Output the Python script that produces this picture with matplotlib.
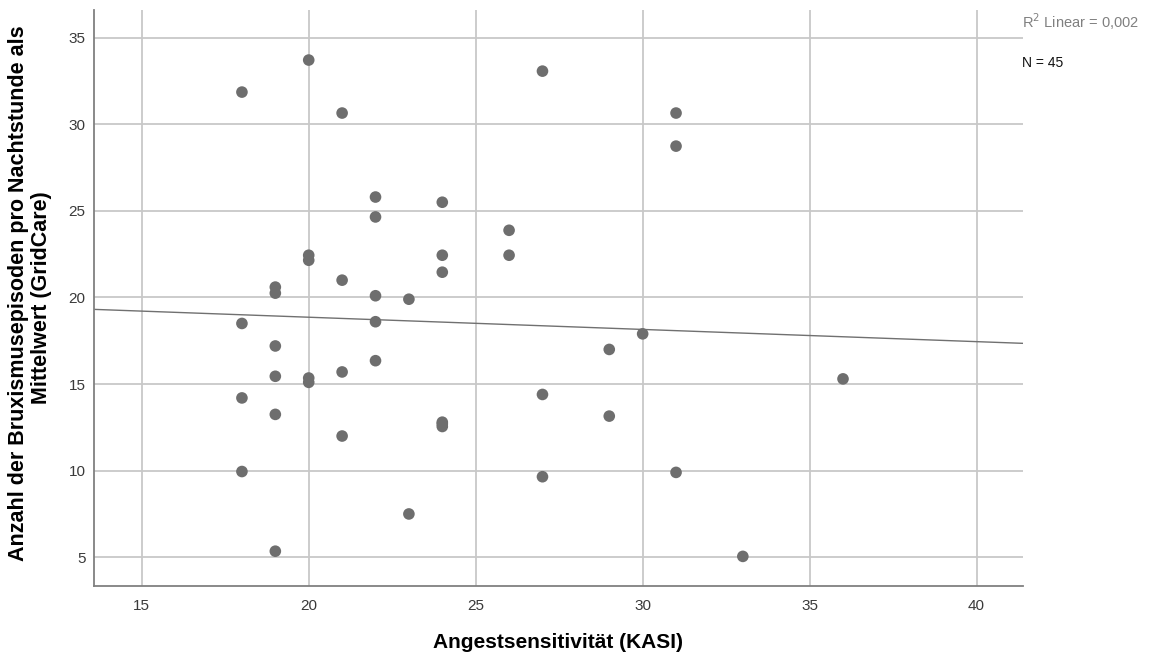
import numpy as np
import matplotlib
matplotlib.use("Agg")
import matplotlib.pyplot as plt

plt.rcParams['font.family'] = ['Liberation Sans', 'DejaVu Sans']

# Data (Angstsensitivität KASI vs. Bruxismusepisoden pro Nachtstunde)
kasi = [18, 20, 21, 27, 31, 31, 22, 22, 24, 26, 26, 24, 24, 20, 20, 21, 19, 19,
        22, 23, 18, 22, 30, 19, 29, 22, 21, 19, 20, 20, 36, 18, 27, 19, 29, 24,
        24, 21, 18, 27, 31, 23, 19, 33, 24]
episodes = [31.86, 33.71, 30.65, 33.07, 30.65, 28.74, 25.80, 24.65, 25.50, 23.88,
            22.44, 22.44, 21.46, 22.44, 22.15, 21.00, 20.60, 20.25, 20.10, 19.90,
            18.50, 18.60, 17.90, 17.20, 17.00, 16.35, 15.70, 15.45, 15.35, 15.10,
            15.30, 14.20, 14.40, 13.25, 13.15, 12.80, 12.55, 12.00, 9.95, 9.65,
            9.90, 7.50, 5.35, 5.05, 12.70]
x_ticks = [15, 20, 25, 30, 35, 40]
y_ticks = [5, 10, 15, 20, 25, 30, 35]
fit_intercept = 20.27
fit_slope = -0.0705

W, H = 1151, 659
fig = plt.figure(figsize=(W/100, H/100), dpi=100)
ax = fig.add_axes([94/W, 1 - 586/H, (1023-94)/W, (586-10)/H])

xlim = (13.57, 41.39)
ylim = (3.34, 36.6)
ax.set_xlim(*xlim)
ax.set_ylim(*ylim)

ax.set_xticks(x_ticks)
ax.set_yticks(y_ticks)
ax.grid(True, color='#c8c8c8', linewidth=1.3, zorder=0)
ax.set_axisbelow(True)
ax.tick_params(length=0, labelsize=11, labelcolor='#3a3a3a')
ax.tick_params(axis='x', pad=9)
ax.tick_params(axis='y', pad=6)

for s in ['top', 'right']:
    ax.spines[s].set_visible(False)
for s in ['left', 'bottom']:
    ax.spines[s].set_color('#808080')
    ax.spines[s].set_linewidth(1.3)

ax.scatter(kasi, episodes, s=70, color='#6e6e6e', edgecolors='none', zorder=3)

xs = np.array(xlim)
ax.plot(xs, fit_intercept + fit_slope * xs, color='#707070', linewidth=1.0, zorder=2)

fig.text(558/W, 1 - 643/H, 'Angestsensitivität (KASI)', fontsize=15, fontweight='bold',
         ha='center', va='center')
fig.text(19/W, 1 - 293/H, 'Anzahl der Bruxismusepisoden pro Nachtstunde als',
         fontsize=15.5, fontweight='bold', rotation=90, ha='center', va='center')
fig.text(42/W, 1 - 298/H, 'Mittelwert (GridCare)',
         fontsize=15.5, fontweight='bold', rotation=90, ha='center', va='center')

fig.text(1022/W, 1 - 22/H, r'R$^2$ Linear = 0,002', fontsize=10.5, color='#808080',
         ha='left', va='center')
fig.text(1022/W, 1 - 63/H, 'N = 45', fontsize=10, color='#111111',
         ha='left', va='center')

fig.savefig('out.png', dpi=100)
